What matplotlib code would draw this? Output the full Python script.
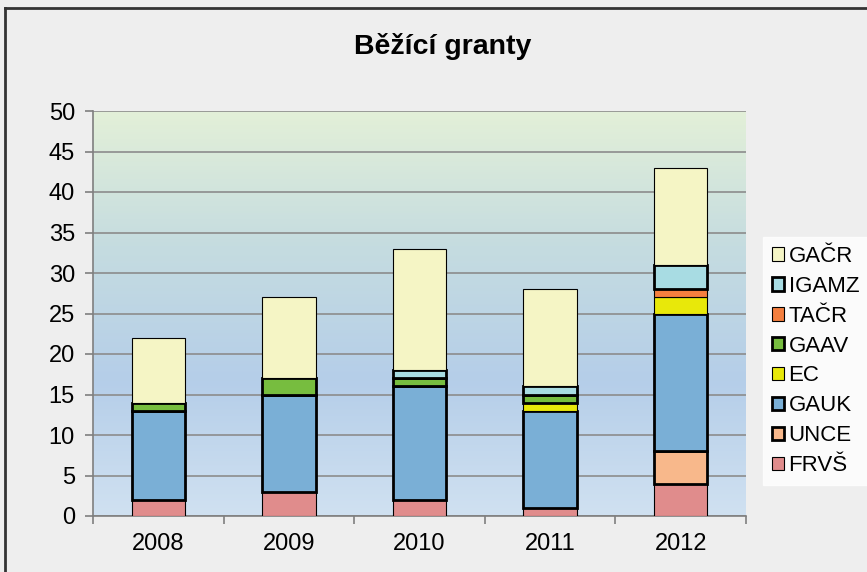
import matplotlib.pyplot as plt
import numpy as np
from matplotlib.colors import LinearSegmentedColormap
from matplotlib.lines import Line2D

plt.rcParams['font.family'] = ['Liberation Sans', 'DejaVu Sans']

years = ['2008', '2009', '2010', '2011', '2012']
# series bottom to top
series = ['FRVŠ', 'UNCE', 'GAUK', 'EC', 'GAAV', 'TAČR', 'IGAMZ', 'GAČR']
frvs = [2, 3, 2, 1, 4]
unce = [0, 0, 0, 0, 4]
gauk = [11, 12, 14, 12, 17]
ec = [0, 0, 0, 1, 2]
gaav = [1, 2, 1, 1, 0]
tacr = [0, 0, 0, 0, 1]
igamz = [0, 0, 1, 1, 3]
gacr = [8, 10, 15, 12, 12]
values = [frvs, unce, gauk, ec, gaav, tacr, igamz, gacr]
colors = ['#e08c8c', '#f8b88b', '#7aafd6', '#e8e80a', '#77bd3f', '#f47f3f', '#a8dce3', '#f5f5c5']
edge_w = [0.8, 2.0, 2.0, 0.8, 2.0, 0.8, 2.0, 0.8]

fig = plt.figure(figsize=(8.67, 5.72), dpi=100, facecolor='#eeeeee')
ax = fig.add_axes([93/867, 1 - 516/572, 653/867, 405/572])

# gradient background of the plot area
grad = LinearSegmentedColormap.from_list('bg', ['#d0e1f1', '#b5cee9', '#c5dce0', '#e3f0d8'])
ax.imshow(np.linspace(0, 1, 256).reshape(-1, 1), cmap=grad, origin='lower',
          extent=[-0.5, 4.5, 0, 50], aspect='auto', zorder=0)

x = np.arange(len(years))
bottom = np.zeros(len(years))
handles = []
for name, vals, c, lw in zip(series, values, colors, edge_w):
    v = np.array(vals, dtype=float)
    mask = v > 0
    ax.bar(x[mask], v[mask], width=0.41, bottom=bottom[mask], color=c,
           edgecolor='black', linewidth=lw, zorder=3)
    handles.append(plt.Rectangle((0, 0), 1, 1, facecolor=c, edgecolor='black', linewidth=lw))
    bottom += v

ax.set_xlim(-0.5, 4.5)
ax.set_ylim(0, 50)
ax.set_yticks(range(0, 51, 5))
ax.yaxis.grid(True, color='#8c8c8c', linewidth=1.2, zorder=1)
ax.set_axisbelow(True)
ax.set_xticks(x)
ax.set_xticklabels(years)
ax.set_xticks(np.arange(-0.5, 5, 1), minor=True)
ax.tick_params(axis='x', which='major', length=0, labelsize=17, pad=12)
ax.tick_params(axis='x', which='minor', length=6, direction='out', color='#7f7f7f', width=1.2)
ax.tick_params(axis='y', length=6, direction='out', color='#7f7f7f', width=1.2, labelsize=17, pad=7)
for s in ['top', 'right']:
    ax.spines[s].set_visible(False)
for s in ['left', 'bottom']:
    ax.spines[s].set_color('#7f7f7f')
    ax.spines[s].set_linewidth(1.2)

fig.text(443/867, 1 - 47/572, 'Běžící granty', ha='center', va='center',
         fontsize=20.5, fontweight='bold')

leg = fig.legend(handles[::-1], series[::-1], loc='center left',
                 bbox_to_anchor=(763/867, 1 - 361/572), frameon=True,
                 fancybox=False, edgecolor='white', facecolor='white',
                 fontsize=16, handlelength=0.55, handleheight=0.55,
                 handletextpad=0.2, labelspacing=0.4, borderpad=0.4,
                 borderaxespad=0)

# outer chart frame (only top and left visible in the crop)
fig.add_artist(Line2D([5/867, 1], [1 - 8/572, 1 - 8/572], color='#333333', linewidth=2))
fig.add_artist(Line2D([5/867, 5/867], [0, 1 - 8/572], color='#333333', linewidth=2))

fig.savefig('out.png', dpi=100, facecolor=fig.get_facecolor())
